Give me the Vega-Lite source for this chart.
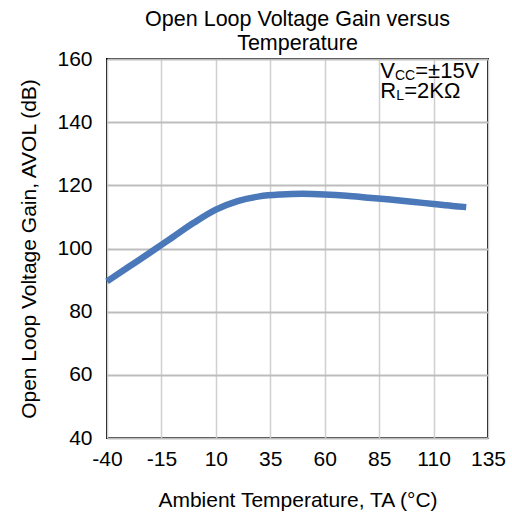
{
  "$schema": "https://vega.github.io/schema/vega-lite/v6.json",
  "autosize": {"type": "none"},
  "width": 381,
  "height": 379,
  "padding": {"left": 107, "top": 59, "right": 24, "bottom": 80},
  "background": "white",
  "config": {
    "font": "Liberation Sans",
    "view": {"stroke": "black", "strokeWidth": 2},
    "axis": {"labelFont": "Liberation Sans", "titleFont": "Liberation Sans", "labelColor": "black", "titleColor": "black", "titleFontWeight": "normal", "labelFontSize": 21, "titleFontSize": 21, "domain": false, "ticks": false, "labelFlush": false, "labelOverlap": false}
  },
  "title": {
    "text": ["Open Loop Voltage Gain versus", "Temperature"],
    "fontSize": 21.5,
    "fontWeight": "normal",
    "color": "black",
    "font": "Liberation Sans",
    "anchor": "middle",
    "lineHeight": 24,
    "offset": -6
  },
  "datasets": {
    "curve": [
      {"temp": -40, "gain": 89.6},
      {"temp": -30, "gain": 94.2},
      {"temp": -20, "gain": 98.8},
      {"temp": -10, "gain": 103.5},
      {"temp": 0, "gain": 108.2},
      {"temp": 10, "gain": 112.3},
      {"temp": 20, "gain": 115.0},
      {"temp": 30, "gain": 116.5},
      {"temp": 40, "gain": 117.1},
      {"temp": 50, "gain": 117.3},
      {"temp": 60, "gain": 117.1},
      {"temp": 70, "gain": 116.7},
      {"temp": 80, "gain": 116.1},
      {"temp": 90, "gain": 115.5},
      {"temp": 100, "gain": 114.8},
      {"temp": 110, "gain": 114.1},
      {"temp": 120, "gain": 113.4},
      {"temp": 125, "gain": 113.1}
    ]
  },
  "layer": [
    {
      "data": {"name": "curve"},
      "mark": {"type": "line", "color": "#4a78b8", "strokeWidth": 6.5, "interpolate": "monotone", "strokeCap": "butt"},
      "encoding": {
        "x": {
          "field": "temp", "type": "quantitative",
          "scale": {"domain": [-40, 135], "nice": false, "zero": false},
          "axis": {
            "values": [-40, -15, 10, 35, 60, 85, 110, 135],
            "labelExpr": "'' + datum.value",
            "title": "Ambient Temperature, TA (°C)",
            "labelPadding": 10,
            "titlePadding": 20,
            "grid": true, "gridColor": "#d0d0d0", "gridWidth": 1.5
          }
        },
        "y": {
          "field": "gain", "type": "quantitative",
          "scale": {"domain": [40, 160], "nice": false, "zero": false},
          "axis": {
            "values": [40, 60, 80, 100, 120, 140, 160],
            "title": "Open Loop Voltage Gain, AVOL (dB)",
            "labelPadding": 15,
            "titlePadding": 17,
            "grid": true, "gridColor": "#bdbdbd", "gridWidth": 2
          }
        }
      }
    },
    {
      "data": {"values": [{"label": "V"}]},
      "mark": {"type": "text", "align": "left", "baseline": "alphabetic", "fontSize": 22, "color": "black"},
      "encoding": {"x": {"datum": 85.5}, "y": {"datum": 154}, "text": {"field": "label"}}
    },
    {
      "data": {"values": [{"label": "CC"}]},
      "mark": {"type": "text", "align": "left", "baseline": "alphabetic", "fontSize": 14, "color": "black", "dx": 14.7, "dy": 2},
      "encoding": {"x": {"datum": 85.5}, "y": {"datum": 154}, "text": {"field": "label"}}
    },
    {
      "data": {"values": [{"label": "=±15V"}]},
      "mark": {"type": "text", "align": "left", "baseline": "alphabetic", "fontSize": 22, "color": "black", "dx": 35},
      "encoding": {"x": {"datum": 85.5}, "y": {"datum": 154}, "text": {"field": "label"}}
    },
    {
      "data": {"values": [{"label": "R"}]},
      "mark": {"type": "text", "align": "left", "baseline": "alphabetic", "fontSize": 22, "color": "black"},
      "encoding": {"x": {"datum": 85.5}, "y": {"datum": 147.5}, "text": {"field": "label"}}
    },
    {
      "data": {"values": [{"label": "L"}]},
      "mark": {"type": "text", "align": "left", "baseline": "alphabetic", "fontSize": 14, "color": "black", "dx": 16, "dy": 2},
      "encoding": {"x": {"datum": 85.5}, "y": {"datum": 147.5}, "text": {"field": "label"}}
    },
    {
      "data": {"values": [{"label": "=2KΩ"}]},
      "mark": {"type": "text", "align": "left", "baseline": "alphabetic", "fontSize": 22, "color": "black", "dx": 24},
      "encoding": {"x": {"datum": 85.5}, "y": {"datum": 147.5}, "text": {"field": "label"}}
    }
  ]
}
